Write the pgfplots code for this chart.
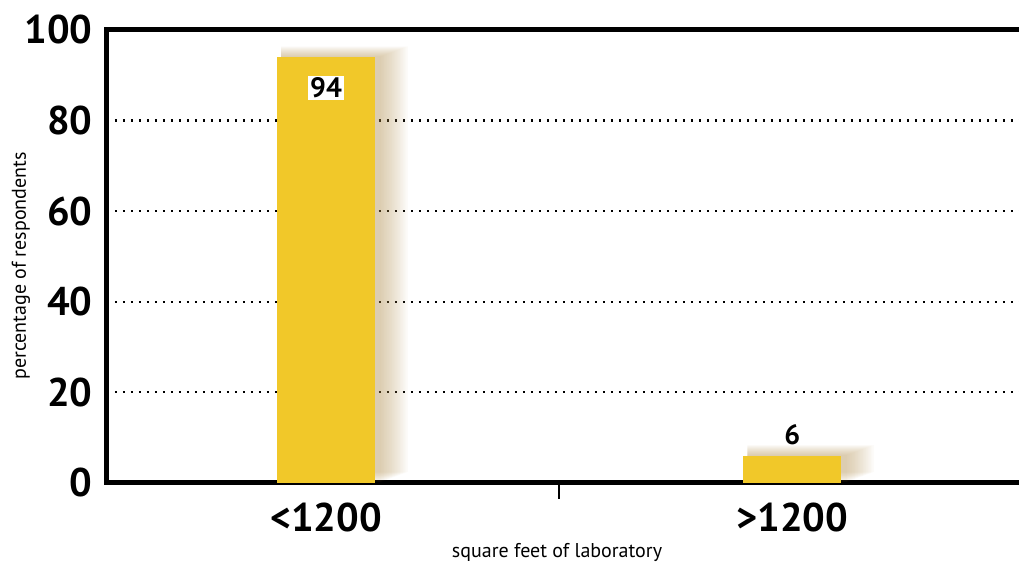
\documentclass[border=0pt]{standalone}
\usepackage{pgfplots}
\pgfplotsset{compat=1.18}
\usepackage{fontspec}
\setmainfont{PT Sans}
\definecolor{barfill}{RGB}{241,200,41}
\definecolor{shadowbrown}{RGB}{175,140,75}

\begin{document}
\begin{tikzpicture}
\useasboundingbox (-53.5pt,-41pt) rectangle (456pt,241.5pt);
\clip (-53.5pt,-41pt) rectangle (456pt,241.5pt);
\begin{axis}[
  scale only axis,
  width=461.5pt, height=226.5pt,
  xmin=-0.47, xmax=1.51,
  ymin=0, ymax=100,
  /pgf/number format/assume math mode=true,
  axis line style={line width=2.5pt, black},
  ytick={0,20,40,60,80,100},
  ymajorgrids,
  grid style={line width=1.1pt, black, dash pattern=on 1.1pt off 2.9pt},
  major tick length=0pt,
  xtick pos=bottom,
  yticklabel style={anchor=east, inner sep=0pt, xshift=-7pt,
    font=\bfseries\fontsize{20}{20}\selectfont},
  xtick={0,1},
  xticklabels={\textbf{<1200},\textbf{>1200}},
  xticklabel style={anchor=north, inner sep=0pt, yshift=-10pt,
    font=\bfseries\fontsize{20}{20}\selectfont},
  extra x ticks={0.5},
  extra x tick labels={},
  extra x tick style={major tick length=8pt, tick align=outside,
    tick style={line width=1pt, black}},
  ybar,
  shadow layer/.style={forget plot, draw=none, fill=shadowbrown,
    fill opacity=0.03, bar width={49pt+#1*0.8pt},
    bar shift={2pt+#1*0.4pt}, yshift={#1*0.3pt}},
]
% soft shadow behind the bars: stacked translucent layers, offset to the right
\addplot[shadow layer=1]  coordinates {(0,94) (1,6)};
\addplot[shadow layer=2]  coordinates {(0,94) (1,6)};
\addplot[shadow layer=3]  coordinates {(0,94) (1,6)};
\addplot[shadow layer=4]  coordinates {(0,94) (1,6)};
\addplot[shadow layer=5]  coordinates {(0,94) (1,6)};
\addplot[shadow layer=6]  coordinates {(0,94) (1,6)};
\addplot[shadow layer=7]  coordinates {(0,94) (1,6)};
\addplot[shadow layer=8]  coordinates {(0,94) (1,6)};
\addplot[shadow layer=9]  coordinates {(0,94) (1,6)};
\addplot[shadow layer=10] coordinates {(0,94) (1,6)};
\addplot[shadow layer=11] coordinates {(0,94) (1,6)};
\addplot[shadow layer=12] coordinates {(0,94) (1,6)};
\addplot[shadow layer=13] coordinates {(0,94) (1,6)};
\addplot[shadow layer=14] coordinates {(0,94) (1,6)};
\addplot[shadow layer=15] coordinates {(0,94) (1,6)};
\addplot[shadow layer=16] coordinates {(0,94) (1,6)};
\addplot[shadow layer=17] coordinates {(0,94) (1,6)};
\addplot[shadow layer=18] coordinates {(0,94) (1,6)};
% share below 1200 sq ft, value printed inside the bar
\addplot[bar shift=0pt, bar width=49pt, fill=barfill, draw=none,
  nodes near coords,
  every node near coord/.style={anchor=north, yshift=-9pt, fill=white,
    inner sep=1pt, text=black,
    font=\bfseries\fontsize{14}{14}\selectfont}]
  coordinates {(0,94)};
% share above 1200 sq ft, value printed above the bar
\addplot[bar shift=0pt, bar width=49pt, fill=barfill, draw=none,
  nodes near coords,
  every node near coord/.style={anchor=south, yshift=2pt, text=black,
    font=\bfseries\fontsize{14}{14}\selectfont}]
  coordinates {(1,6)};
\end{axis}
\node[font=\fontsize{10}{11}\selectfont] at (225pt,-35pt) {square feet of laboratory};
\node[rotate=90, font=\fontsize{10}{11}\selectfont] at (-43pt,108.5pt) {percentage of respondents};
\end{tikzpicture}
\end{document}
